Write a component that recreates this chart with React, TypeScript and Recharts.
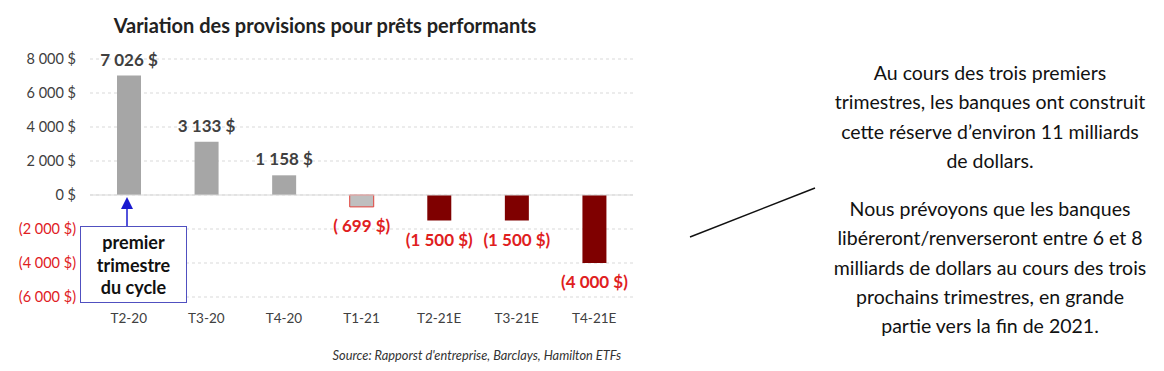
import { BarChart, Bar, XAxis, YAxis, CartesianGrid, ReferenceLine, Cell, LabelList } from 'recharts'

const QUARTERS = ['T2-20', 'T3-20', 'T4-20', 'T1-21', 'T2-21E', 'T3-21E', 'T4-21E']
const PROVISIONS = [7026, 3133, 1158, -699, -1500, -1500, -4000]
const Y_TICKS = [-6000, -4000, -2000, 0, 2000, 4000, 6000, 8000]
const BAR_FILLS = ['#a6a6a6', '#a6a6a6', '#a6a6a6', '#bfbfbf', '#7f0000', '#7f0000', '#7f0000']
const BAR_STROKES = ['none', 'none', 'none', '#e0403a', 'none', 'none', 'none']

const NOTE_TOP = ['Au cours des trois premiers', 'trimestres, les banques ont construit', 'cette réserve d’environ 11 milliards', 'de dollars.']
const NOTE_BOTTOM = [
  'Nous prévoyons que les banques',
  'libéreront/renverseront entre 6 et 8',
  'milliards de dollars au cours des trois',
  'prochains trimestres, en grande',
  'partie vers la fin de 2021.',
]

const FONT = 'Lato, "Open Sans", sans-serif'
const RED = '#e0201e'
const DARK = '#404040'

const data = QUARTERS.map((q, i) => ({ q, v: PROVISIONS[i] }))

function fmtThousands(n: number) {
  const s = Math.abs(n).toString()
  return s.replace(/\B(?=(\d{3})+(?!\d))/g, ' ')
}

function fmtValue(n: number) {
  if (n < 0) {
    const a = fmtThousands(n)
    return `(${Math.abs(n) < 1000 ? ' ' : ''}${a} $)`
  }
  return `${fmtThousands(n)} $`
}

function YTick(props: any) {
  const { x, y, payload } = props
  const v = payload.value as number
  return (
    <text x={x} y={y} dy={5} textAnchor="end" fontSize={14.5} fontFamily={FONT} fill={v < 0 ? RED : DARK}>
      {fmtValue(v)}
    </text>
  )
}

function ValueLabel(props: any) {
  const { x, y, width, height, value } = props
  const top = Math.min(y, y + height)
  const bottom = Math.max(y, y + height)
  const neg = value < 0
  return (
    <text
      x={x + width / 2}
      y={neg ? bottom + 19 : top - 16}
      dy={6}
      textAnchor="middle"
      fontSize={17}
      fontWeight={700}
      fontFamily={FONT}
      fill={neg ? RED : DARK}
    >
      {fmtValue(value)}
    </text>
  )
}

export default function App() {
  return (
    <div style={{ position: 'absolute', left: 0, top: 0, width: 1164, height: 371, background: '#fff', fontFamily: FONT }}>
      <div style={{ position: 'absolute', left: 0, top: 13, width: 650, textAlign: 'center', fontSize: 20, fontWeight: 700, color: '#222' }}>
        Variation des provisions pour prêts performants
      </div>
      <BarChart width={640} height={371} data={data} margin={{ top: 59, right: 7, bottom: 44, left: 0 }}>
        <CartesianGrid vertical={false} stroke="#d9d9d9" strokeDasharray="3 3" />
        <XAxis
          dataKey="q"
          axisLine={false}
          tickLine={false}
          height={30}
          tickMargin={10}
          tick={{ fontSize: 13.5, fill: DARK, fontFamily: FONT }}
        />
        <YAxis
          width={90}
          domain={[-6000, 8000]}
          ticks={Y_TICKS}
          axisLine={false}
          tickLine={false}
          tickMargin={8}
          tick={<YTick />}
        />
        <ReferenceLine y={0} stroke="#d9d9d9" strokeWidth={1} />
        <Bar dataKey="v" barSize={24} isAnimationActive={false}>
          {data.map((d, i) => (
            <Cell key={d.q} fill={BAR_FILLS[i]} stroke={BAR_STROKES[i]} strokeWidth={1} />
          ))}
          <LabelList dataKey="v" content={<ValueLabel />} />
        </Bar>
      </BarChart>

      <svg style={{ position: 'absolute', left: 0, top: 0 }} width={1164} height={371}>
        <defs>
          <marker id="ah" markerWidth="8" markerHeight="8" refX="4" refY="4" orient="auto">
            <path d="M0,0 L8,4 L0,8 z" fill="#1a1ad0" />
          </marker>
        </defs>
        <line x1={127} y1={226} x2={127} y2={203} stroke="#1a1ad0" strokeWidth={1.5} markerEnd="url(#ah)" />
        <rect x={80.5} y={226.5} width={106} height={76} fill="#fff" stroke="#5050c0" strokeWidth={1} />
        <line x1={690} y1={237} x2={815} y2={188} stroke="#111" strokeWidth={1.5} />
      </svg>

      <div
        style={{
          position: 'absolute',
          left: 80,
          top: 231,
          width: 107,
          textAlign: 'center',
          fontSize: 18,
          fontWeight: 700,
          lineHeight: '22.5px',
          color: '#111',
        }}
      >
        premier
        <br />
        trimestre
        <br />
        du cycle
      </div>

      <div style={{ position: 'absolute', right: 543, top: 347, fontSize: 12.8, fontStyle: 'italic', color: '#333', whiteSpace: 'nowrap' }}>
        Source: Rapporst d'entreprise, Barclays, Hamilton ETFs
      </div>

      <div style={{ position: 'absolute', left: 815, top: 58, width: 350, textAlign: 'center', fontSize: 19.5, lineHeight: '29.3px', color: '#111' }}>
        {NOTE_TOP.map((l) => (
          <div key={l}>{l}</div>
        ))}
        <div style={{ height: 19 }} />
        {NOTE_BOTTOM.map((l) => (
          <div key={l}>{l}</div>
        ))}
      </div>
    </div>
  )
}
